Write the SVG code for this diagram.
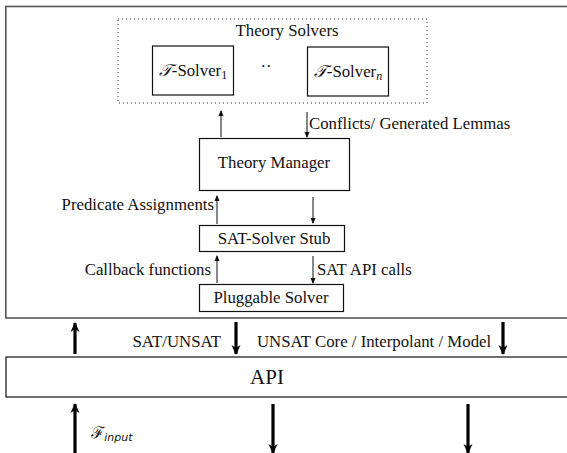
<svg xmlns="http://www.w3.org/2000/svg" width="567" height="453" viewBox="0 0 567 453">
<style>
text{font-family:"Liberation Serif","Times New Roman",serif;font-size:16.8px;fill:#111}
text.api{font-size:21px}
.box{fill:#fff;stroke:#111;stroke-width:1.2}
.frame{fill:none;stroke:#555;stroke-width:1.6}
.thin{stroke:#111;stroke-width:1;fill:none}
.thick{stroke:#000;stroke-width:3.2;fill:none}
.cal{font-family:"DejaVu Serif","Noto Sans",serif;font-style:italic}
</style>
<defs>
<marker id="ah" viewBox="0 0 6 8" refX="5" refY="4" markerWidth="6" markerHeight="8" markerUnits="userSpaceOnUse" orient="auto"><path d="M0,1.5 L6,4 L0,6.5 Z" fill="#111"/></marker>
<marker id="bh" viewBox="0 0 10 10" refX="9" refY="5" markerWidth="10" markerHeight="10" markerUnits="userSpaceOnUse" orient="auto"><path d="M0,0.5 L10,5 L0,9.5 L3,5 Z" fill="#000"/></marker>
</defs>
<rect width="567" height="453" fill="#fff"/>
<g id="outer"><rect class="frame" x="5.8" y="6.5" width="600" height="311.5"/></g>
<g id="theory-solvers">
<rect x="118" y="19" width="309" height="84" fill="none" stroke="#333" stroke-width="1" stroke-dasharray="1,3"/>
<text x="287" y="36" text-anchor="middle">Theory Solvers</text>
</g>
<g id="tsolver1"><rect class="box" x="152.5" y="46" width="81" height="49"/>
<text x="193" y="76" text-anchor="middle"><tspan class="cal">𝒯</tspan>-Solver<tspan font-size="12" dy="3">1</tspan></text></g>
<g id="dots"><text x="266" y="72" text-anchor="middle">··</text></g>
<g id="tsolvern"><rect class="box" x="307.5" y="47" width="81" height="49"/>
<text x="348" y="77" text-anchor="middle"><tspan class="cal">𝒯</tspan>-Solver<tspan font-size="12" dy="3" font-style="italic">n</tspan></text></g>
<g id="theory-manager"><rect class="box" x="199.5" y="138.5" width="150" height="52"/>
<text x="274" y="168" text-anchor="middle">Theory Manager</text></g>
<g id="sat-stub"><rect class="box" x="199.5" y="225.5" width="145" height="26"/>
<text x="274" y="244" text-anchor="middle">SAT-Solver Stub</text></g>
<g id="pluggable"><rect class="box" x="199.5" y="284.5" width="144" height="27"/>
<text x="271" y="303" text-anchor="middle">Pluggable Solver</text></g>
<g id="api"><rect class="box" x="6" y="357" width="600" height="40"/>
<text class="api" x="267" y="384" text-anchor="middle">API</text></g>
<g id="connectors">
<line class="thin" x1="221" y1="137" x2="221" y2="111" marker-end="url(#ah)"/>
<line class="thin" x1="307" y1="112" x2="307" y2="137" marker-end="url(#ah)"/>
<line class="thin" x1="217" y1="224" x2="217" y2="196" marker-end="url(#ah)"/>
<line class="thin" x1="313" y1="197" x2="313" y2="223" marker-end="url(#ah)"/>
<line class="thin" x1="217" y1="283" x2="217" y2="256" marker-end="url(#ah)"/>
<line class="thin" x1="313" y1="256" x2="313" y2="283" marker-end="url(#ah)"/>
<line class="thick" x1="75" y1="354" x2="75" y2="323" marker-end="url(#bh)"/>
<line class="thick" x1="236" y1="322" x2="236" y2="354" marker-end="url(#bh)"/>
<line class="thick" x1="503" y1="322" x2="503" y2="354" marker-end="url(#bh)"/>
<line class="thick" x1="75" y1="453" x2="75" y2="404" marker-end="url(#bh)"/>
<line class="thick" x1="273" y1="404" x2="273" y2="453" marker-end="url(#bh)"/>
<line class="thick" x1="468" y1="404" x2="468" y2="453" marker-end="url(#bh)"/>
</g>
<g id="labels">
<text x="309" y="129">Conflicts/ Generated Lemmas</text>
<text x="214" y="210" text-anchor="end">Predicate Assignments</text>
<text x="211" y="275" text-anchor="end">Callback functions</text>
<text x="317" y="275">SAT API calls</text>
<text x="221" y="347" text-anchor="end">SAT/UNSAT</text>
<text x="257" y="347">UNSAT Core / Interpolant / Model</text>
<text x="91" y="438"><tspan class="cal" font-size="16">ℱ</tspan><tspan font-family="DejaVu Sans,sans-serif" font-style="italic" font-size="11" dy="3">input</tspan></text>
</g>
</svg>
